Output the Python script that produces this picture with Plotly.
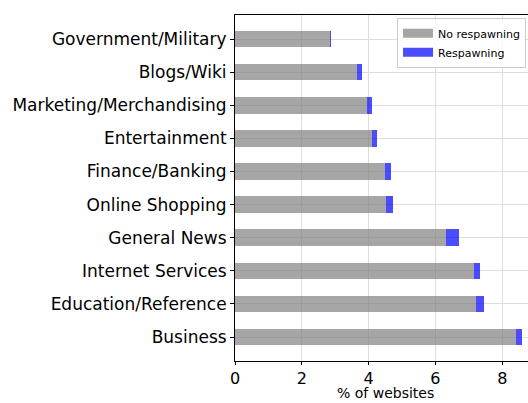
import plotly.graph_objects as go

categories = ["Government/Military", "Blogs/Wiki", "Marketing/Merchandising", "Entertainment",
              "Finance/Banking", "Online Shopping", "General News", "Internet Services",
              "Education/Reference", "Business"]
no_respawning = [2.84, 3.65, 3.96, 4.09, 4.49, 4.53, 6.32, 7.14, 7.22, 8.41]
respawning = [0.03, 0.14, 0.13, 0.17, 0.19, 0.21, 0.39, 0.20, 0.23, 0.19]
x_ticks = [0, 2, 4, 6, 8]

gray = "rgba(128,128,128,0.7)"
blue = "rgba(0,0,255,0.7)"

fig = go.Figure()
fig.add_trace(go.Bar(y=categories, x=no_respawning, orientation="h", name="No respawning",
                     marker=dict(color=gray, line=dict(width=0)), showlegend=False))
fig.add_trace(go.Bar(y=categories, x=respawning, orientation="h", name="Respawning",
                     marker=dict(color=blue, line=dict(width=0)), showlegend=False))
# legend proxies (wide rectangular patches)
fig.add_trace(go.Scatter(x=[None], y=[None], mode="lines", name="No respawning",
                         line=dict(color=gray, width=9)))
fig.add_trace(go.Scatter(x=[None], y=[None], mode="lines", name="Respawning",
                         line=dict(color=blue, width=9)))

font = "DejaVu Sans"
fig.update_layout(
    width=528, height=403,
    margin=dict(l=235, r=0, t=15, b=42),
    barmode="stack", bargap=0.5,
    paper_bgcolor="white", plot_bgcolor="white",
    font=dict(family=font, color="#000000"),
    legend=dict(x=0.553, y=0.992, xanchor="left", yanchor="top", traceorder="normal",
                bgcolor="rgba(255,255,255,0.8)", bordercolor="#cccccc", borderwidth=1,
                font=dict(size=11, family=font), tracegroupgap=0, itemwidth=30),
    xaxis=dict(range=[0, 8.77], tickvals=x_ticks, ticks="outside", ticklen=3, tickcolor="black",
               showline=True, linecolor="black", linewidth=1, mirror=True, automargin=False,
               showgrid=True, gridcolor="#dedede", gridwidth=1, zeroline=False,
               tickfont=dict(size=16, family=font), ticklabelstandoff=0),
    yaxis=dict(categoryorder="array", categoryarray=categories, range=[9.725, -0.725],
               ticks="outside", ticklen=4, tickcolor="black", automargin=False,
               showline=True, linecolor="black", linewidth=1,
               showgrid=True, gridcolor="#dedede", gridwidth=1, zeroline=False,
               tickfont=dict(size=17, family=font), ticklabelstandoff=0),
    annotations=[dict(text="% of websites", xref="paper", yref="paper", x=0.515, y=-0.1214,
                      xanchor="center", yanchor="bottom", showarrow=False,
                      font=dict(size=14, family=font, color="black"))],
)
fig.write_html("out.html", config={"displayModeBar": False},
               post_script="document.body.style.margin='0';document.body.style.padding='0';"
                           "document.body.style.overflow='hidden';")
